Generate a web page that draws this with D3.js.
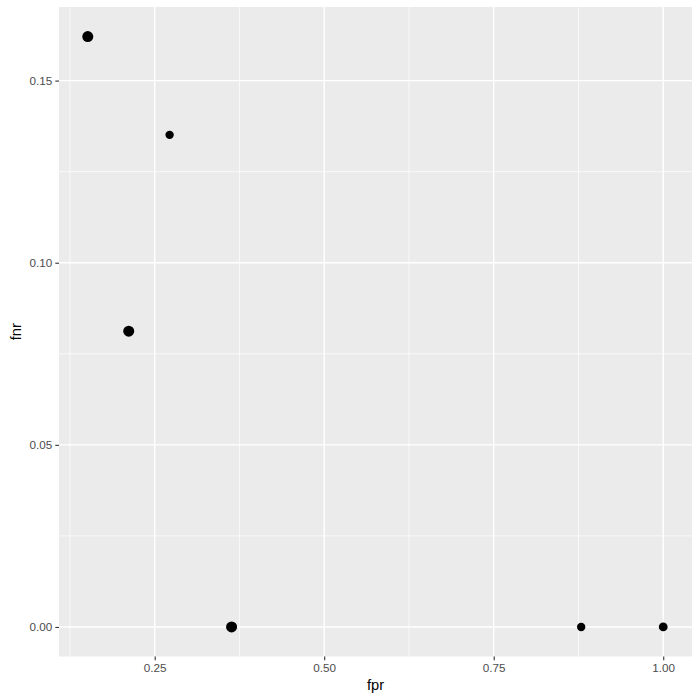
<!DOCTYPE html>
<html>
<head>
<meta charset="utf-8">
<script src="https://cdn.jsdelivr.net/npm/d3@7"></script>
<style>
  body { margin: 0; background: #fff; }
  svg { display: block; font-family: "Liberation Sans", Arial, sans-serif; }
</style>
</head>
<body>
<div id="chart"></div>
<script>
// Data
var fpr = [0.1513, 0.272, 0.2117, 0.3634, 0.879, 1.0];
var fnr = [0.1621, 0.1351, 0.0812, 0.0, 0.0, 0.0];
var weight = [3, 1, 3, 3, 1, 1.3];

var xTicks = [0.25, 0.50, 0.75, 1.00];
var yTicks = [0.00, 0.05, 0.10, 0.15];
var xMinor = [0.125, 0.375, 0.625, 0.875];
var yMinor = [0.025, 0.075, 0.125];

var W = 700, H = 700;
var margin = {top: 7, right: 8, bottom: 43.5, left: 59};
var width = W - margin.left - margin.right,
    height = H - margin.top - margin.bottom;

var data = fpr.map(function(d, i) {
    return {fpr: d, fnr: fnr[i], w: weight[i]};
});

// ggplot-style 5% expansion
function expand(ext) {
    var pad = (ext[1] - ext[0]) * 0.05;
    return [ext[0] - pad, ext[1] + pad];
}

var x = d3.scaleLinear()
    .domain(expand(d3.extent(data, function(d) { return d.fpr; })))
    .range([0, width]);
var y = d3.scaleLinear()
    .domain(expand(d3.extent(data, function(d) { return d.fnr; })))
    .range([height, 0]);
var r = d3.scaleLinear().domain([1, 3]).range([4.2, 5.5]);

var svg = d3.select("#chart").append("svg")
    .attr("width", W)
    .attr("height", H);

var g = svg.append("g")
    .attr("transform", "translate(" + margin.left + "," + margin.top + ")");

// panel background
g.append("rect")
    .attr("width", width)
    .attr("height", height)
    .attr("fill", "#EBEBEB");

// minor grid
g.selectAll(".xminor").data(xMinor).enter().append("line")
    .attr("x1", x).attr("x2", x)
    .attr("y1", 0).attr("y2", height)
    .attr("stroke", "#fff").attr("stroke-width", 0.7);
g.selectAll(".yminor").data(yMinor).enter().append("line")
    .attr("y1", y).attr("y2", y)
    .attr("x1", 0).attr("x2", width)
    .attr("stroke", "#fff").attr("stroke-width", 0.7);

// major grid
g.selectAll(".xmajor").data(xTicks).enter().append("line")
    .attr("x1", x).attr("x2", x)
    .attr("y1", 0).attr("y2", height)
    .attr("stroke", "#fff").attr("stroke-width", 1.4);
g.selectAll(".ymajor").data(yTicks).enter().append("line")
    .attr("y1", y).attr("y2", y)
    .attr("x1", 0).attr("x2", width)
    .attr("stroke", "#fff").attr("stroke-width", 1.4);

// axes
var xAxis = d3.axisBottom(x)
    .tickValues(xTicks)
    .tickFormat(d3.format(".2f"))
    .tickSize(3.7)
    .tickPadding(3);
var yAxis = d3.axisLeft(y)
    .tickValues(yTicks)
    .tickFormat(d3.format(".2f"))
    .tickSize(3.7)
    .tickPadding(3);

var gx = g.append("g")
    .attr("transform", "translate(0," + height + ")")
    .call(xAxis);
var gy = g.append("g").call(yAxis);

[gx, gy].forEach(function(a) {
    a.select(".domain").remove();
    a.selectAll(".tick line").attr("stroke", "#333333").attr("stroke-width", 1.1);
    a.selectAll(".tick text")
        .attr("fill", "#4D4D4D")
        .style("font-size", "11.7px")
        .style("font-family", "Liberation Sans, Arial, sans-serif");
});

// points
g.selectAll(".dot")
    .data(data)
    .enter().append("circle")
    .attr("class", "dot")
    .attr("cx", function(d) { return x(d.fpr); })
    .attr("cy", function(d) { return y(d.fnr); })
    .attr("r", function(d) { return r(d.w); })
    .attr("fill", "#000");

// axis titles
svg.append("text")
    .attr("x", margin.left + width / 2)
    .attr("y", H - 10)
    .attr("text-anchor", "middle")
    .attr("fill", "#000")
    .style("font-size", "14.67px")
    .text("fpr");

svg.append("text")
    .attr("transform", "translate(" + 21 + "," + (margin.top + height / 2) + ") rotate(-90)")
    .attr("text-anchor", "middle")
    .attr("fill", "#000")
    .style("font-size", "14.67px")
    .text("fnr");
</script>
</body>
</html>
